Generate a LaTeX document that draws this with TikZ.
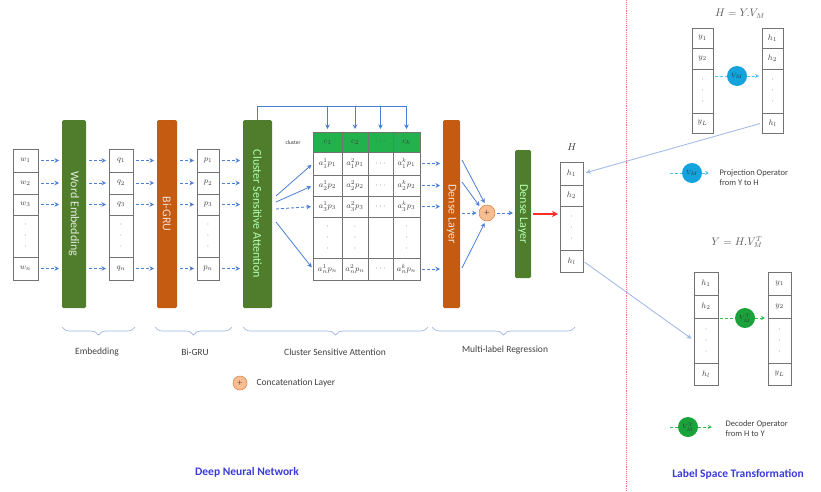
\documentclass[tikz,border=0pt]{standalone}
\usepackage{fontspec}
\setmainfont{Carlito}
\usetikzlibrary{arrows.meta,calc,decorations.pathreplacing}
\definecolor{barG}{HTML}{4F7D2C}
\definecolor{barO}{HTML}{C55A11}
\definecolor{hdrG}{HTML}{22B14C}
\definecolor{arrB}{HTML}{4A7FD6}
\definecolor{lineB}{HTML}{A3BCE8}
\definecolor{brcB}{HTML}{9DB6E2}
\definecolor{catF}{HTML}{F6BE92}
\definecolor{catD}{HTML}{E08A4E}
\definecolor{vmB}{HTML}{14A3DC}
\definecolor{vmG}{HTML}{1BA33B}
\definecolor{cyA}{HTML}{4FC3F0}
\definecolor{grA}{HTML}{2DBE4E}
\definecolor{titleB}{HTML}{3B3BD8}
\definecolor{txtG}{HTML}{404040}
\definecolor{redL}{HTML}{FF7070}
\definecolor{redA}{HTML}{FF2A2A}
\newcommand\mkcell[7][]{\node[cell,#1,minimum width={(#5-#3)*1pt},minimum height={(#6-#4)*1pt}] (#2) at ({(#3+#5)/2},{(#4+#6)/2}) {#7};}
\newcommand\mydots{$\cdot$\\[3pt]$\cdot$\\[3pt]$\cdot$}
\tikzset{
  cell/.style={draw=black!55, line width=0.5pt, inner sep=0pt, outer sep=0pt, align=center, font=\fontsize{8}{8}\selectfont, text=black!75},
  bar/.style={rounded corners=1.5pt, inner sep=0pt, outer sep=0pt, draw=none},
  bartxt/.style={rotate=-90, font=\fontsize{12}{12}\selectfont, inner sep=0pt},
  arr/.style={draw=arrB, line width=0.9pt, densely dashed, -{Stealth[length=4.5pt,width=4.5pt]}, shorten <=3pt, shorten >=3pt},
  arrs/.style={draw=arrB, line width=0.8pt, -{Stealth[length=4.5pt,width=4.5pt]}, shorten >=2pt},
  tline/.style={draw=arrB, line width=0.8pt},
  longarr/.style={draw=lineB, line width=0.9pt, -{Stealth[length=5pt,width=5pt]}, shorten >=3pt, shorten <=2pt},
  opc/.style={circle, minimum size=20pt, inner sep=0pt, font=\fontsize{6}{6}\selectfont, text=black!80},
  carr/.style={draw=cyA, line width=1pt, densely dashed},
  garr/.style={draw=grA, line width=1pt, densely dashed},
  brc/.style={draw=brcB, line width=0.7pt, decorate, decoration={brace, mirror, amplitude=8pt}},
  lbl/.style={font=\fontsize{9.5}{10}\selectfont, text=txtG},
  leg/.style={font=\fontsize{8.5}{10}\selectfont, text=txtG, align=left, anchor=west},
  ttl/.style={font=\fontsize{11.5}{12}\selectfont\bfseries, text=titleB},
}
\begin{document}
\begin{tikzpicture}[x=1pt,y=-1pt]
\useasboundingbox (0,0) rectangle (821,491);

% ---------- input column w ----------
\mkcell{w-1}{13}{149}{38}{172}{$w_1$}
\mkcell{w-2}{13}{172}{38}{194}{$w_2$}
\mkcell{w-3}{13}{194}{38}{215}{$w_3$}
\mkcell{w-d}{13}{215}{38}{257}{\mydots}
\mkcell{w-n}{13}{257}{38}{280}{$w_n$}
% ---------- q column ----------
\mkcell{q-1}{109}{149}{133}{172}{$q_1$}
\mkcell{q-2}{109}{172}{133}{194}{$q_2$}
\mkcell{q-3}{109}{194}{133}{215}{$q_3$}
\mkcell{q-d}{109}{215}{133}{257}{\mydots}
\mkcell{q-n}{109}{257}{133}{280}{$q_n$}
% ---------- p column ----------
\mkcell{p-1}{197}{149}{219}{172}{$p_1$}
\mkcell{p-2}{197}{172}{219}{194}{$p_2$}
\mkcell{p-3}{197}{194}{219}{215}{$p_3$}
\mkcell{p-d}{197}{215}{219}{257}{\mydots}
\mkcell{p-n}{197}{257}{219}{280}{$p_n$}

% ---------- bars ----------
\node[bar, fill=barG, minimum width=24pt, minimum height=188pt] (emb) at (74,214) {};
\node[bartxt, text=white!85!barG] (emb-t) at (emb.center) {Word Embedding};
\node[bar, fill=barO, minimum width=20pt, minimum height=188pt] (gru) at (167,214) {};
\node[bartxt, text=white!80!barO] (gru-t) at (gru.center) {Bi-GRU};
\node[bar, fill=barG, minimum width=29pt, minimum height=188pt] (csa) at (257.5,214) {};
\node[bartxt, text=green!30!white] (csa-t) at (csa.center) {Cluster Sensitive Attention};
\node[bar, fill=barO, minimum width=17pt, minimum height=188pt] (dense) at (451.5,214) {};
\node[bartxt, text=white!80!barO] (dense-t) at (dense.center) {Dense Layer};
\node[bar, fill=barG, minimum width=16pt, minimum height=128pt] (dense2) at (523,214) {};
\node[bartxt, text=green!30!white] (dense2-t) at (dense2.center) {Dense Layer};

% ---------- row arrows ----------
\foreach \r in {1,2,3,n}{
  \draw[arr] (w-\r.east) -- (w-\r.east -| emb.west);
  \draw[arr] (emb.east |- q-\r.west) -- (q-\r.west);
  \draw[arr] (q-\r.east) -- (q-\r.east -| gru.west);
  \draw[arr] (gru.east |- p-\r.west) -- (p-\r.west);
  \draw[arr] (p-\r.east) -- (p-\r.east -| csa.west);
}

% ---------- attention table ----------
\node[font=\fontsize{5.5}{6}\selectfont, text=black!80] (clus) at (293,143) {cluster};
\mkcell[fill=hdrG]{t-0-1}{313}{132}{342}{152}{$c_1$}
\mkcell[fill=hdrG]{t-0-2}{342}{132}{368}{152}{$c_2$}
\mkcell[fill=hdrG]{t-0-3}{368}{132}{393}{152}{$\cdots$}
\mkcell[fill=hdrG]{t-0-4}{393}{132}{420}{152}{$c_k$}
\mkcell{t-1-1}{313}{152}{342}{175}{$a_1^1p_1$}
\mkcell{t-1-2}{342}{152}{368}{175}{$a_1^2p_1$}
\mkcell{t-1-3}{368}{152}{393}{175}{$\cdots$}
\mkcell{t-1-4}{393}{152}{420}{175}{$a_1^kp_1$}
\mkcell{t-2-1}{313}{175}{342}{196}{$a_2^1p_2$}
\mkcell{t-2-2}{342}{175}{368}{196}{$a_2^2p_2$}
\mkcell{t-2-3}{368}{175}{393}{196}{$\cdots$}
\mkcell{t-2-4}{393}{175}{420}{196}{$a_2^kp_2$}
\mkcell{t-3-1}{313}{196}{342}{217}{$a_3^1p_3$}
\mkcell{t-3-2}{342}{196}{368}{217}{$a_3^2p_3$}
\mkcell{t-3-3}{368}{196}{393}{217}{$\cdots$}
\mkcell{t-3-4}{393}{196}{420}{217}{$a_3^kp_3$}
\mkcell{t-d-1}{313}{217}{342}{258}{\mydots}
\mkcell{t-d-2}{342}{217}{368}{258}{\mydots}
\mkcell{t-d-3}{368}{217}{393}{258}{}
\mkcell{t-d-4}{393}{217}{420}{258}{\mydots}
\mkcell{t-n-1}{313}{258}{342}{280}{$a_n^1p_n$}
\mkcell{t-n-2}{342}{258}{368}{280}{$a_n^2p_n$}
\mkcell{t-n-3}{368}{258}{393}{280}{$\cdots$}
\mkcell{t-n-4}{393}{258}{420}{280}{$a_n^kp_n$}

% top feed line
\draw[tline] (csa.north) -- (csa.north |- 0,106) -- (t-0-4.north |- 0,106);
\foreach \c in {1,2,3,4}{
  \draw[arrs, shorten >=3pt] (t-0-\c.north |- 0,106) -- (t-0-\c.north);
}
% fan from attention bar
\draw[arrs] ($(csa.east)+(4,-18)$) -- (t-1-1.west);
\draw[arrs] ($(csa.east)+(4,-12)$) -- (t-2-1.west);
\draw[arr, shorten <=0pt, shorten >=2pt] ($(csa.east)+(4,-5)$) -- (t-3-1.west);
\draw[arrs] ($(csa.east)+(4,8)$) -- (t-n-1.west);
% table rows to dense layer
\foreach \r in {1,2,3,n}{
  \draw[arr, shorten <=2pt] (t-\r-4.east) -- (t-\r-4.east -| dense.west);
}

% ---------- concatenation ----------
\node[circle, draw=catD, fill=catF, line width=0.6pt, minimum size=16pt, inner sep=0pt, font=\fontsize{7}{7}\selectfont] (cat) at (487,213) {$+$};
\draw[arrs] ($(dense.east)+(2,-54)$) -- (cat.100);
\draw[arrs] ($(dense.east)+(2,-32)$) -- (cat.140);
\draw[arr, shorten <=2pt, shorten >=2pt] ($(dense.east)+(0,-1)$) -- (cat.west);
\draw[arrs] ($(dense.east)+(2,54)$) -- (cat.-100);
\draw[arr, shorten <=2pt, shorten >=2pt] (cat.east) -- (cat.east -| dense2.west);

% ---------- H column ----------
\node[font=\fontsize{10}{10}\selectfont, text=black!80] (Hlab) at (572,147) {$H$};
\mkcell{H-1}{560}{162}{583}{185}{$h_1$}
\mkcell{H-2}{560}{185}{583}{206}{$h_2$}
\mkcell{H-d}{560}{206}{583}{250}{\mydots}
\mkcell{H-n}{560}{250}{583}{272}{$h_l$}
\draw[draw=redA, line width=1.6pt, -{Stealth[length=6pt,width=6pt]}, shorten <=2pt, shorten >=2pt] (dense2.east) -- (dense2.east -| H-d.west);

% ---------- separator ----------
\draw[redL, densely dotted, line width=0.9pt] (626,0) -- (626,491);

% ---------- projection (top right) ----------
\node[font=\fontsize{10.5}{11}\selectfont, text=black!65] (f1) at (740,14) {$H = Y.V_M$};
\mkcell{ty-1}{692}{28}{713}{48}{$y_1$}
\mkcell{ty-2}{692}{48}{713}{69}{$y_2$}
\mkcell{ty-d}{692}{69}{713}{113}{\mydots}
\mkcell{ty-n}{692}{113}{713}{133}{$y_L$}
\mkcell{th-1}{762}{28}{783}{48}{$h_1$}
\mkcell{th-2}{762}{48}{783}{69}{$h_2$}
\mkcell{th-d}{762}{69}{783}{113}{\mydots}
\mkcell{th-n}{762}{113}{783}{133}{$h_l$}
\node[opc, fill=vmB] (vm) at (737,76) {$V_M$};
\draw[carr, shorten <=2pt] (ty-d.east |- vm) -- (vm.west);
\draw[carr, -{Stealth[length=4pt,width=4pt]}, shorten >=3pt] (vm.east) -- (th-d.west |- vm);

% legend projection
\node[opc, fill=vmB] (vml) at (692,173) {$V_M$};
\coordinate (vml-a) at (670,173);
\coordinate (vml-b) at (709,173);
\draw[carr] (vml-a) -- (vml.west);
\draw[carr, -{Stealth[length=4pt,width=4pt]}] (vml.east) -- (vml-b);
\node[leg] (vml-t) at (716,178) {Projection Operator\\from Y to H};

% ---------- decoder (bottom right) ----------
\node[font=\fontsize{10.5}{11}\selectfont, text=black!65] (f2) at (737,242) {$Y = H.V_M^T$};
\mkcell{bh-1}{694}{272}{718}{295}{$h_1$}
\mkcell{bh-2}{694}{295}{718}{318}{$h_2$}
\mkcell{bh-d}{694}{318}{718}{363}{\mydots}
\mkcell{bh-n}{694}{363}{718}{385}{$h_l$}
\mkcell{by-1}{768}{272}{791}{295}{$y_1$}
\mkcell{by-2}{768}{295}{791}{318}{$y_2$}
\mkcell{by-d}{768}{318}{791}{363}{\mydots}
\mkcell{by-n}{768}{363}{791}{385}{$y_L$}
\node[opc, fill=vmG] (vmt) at (745,318) {$V_M^T$};
\draw[garr, shorten <=2pt] (vmt -| bh-d.east) -- (vmt.west);
\draw[garr, -{Stealth[length=4pt,width=4pt]}, shorten >=3pt] (vmt.east) -- (vmt -| by-d.west);

% legend decoder
\node[opc, fill=vmG] (vmtl) at (688,427) {$V_M^T$};
\coordinate (vmtl-a) at (670,427);
\coordinate (vmtl-b) at (712,427);
\draw[garr] (vmtl-a) -- (vmtl.west);
\draw[garr, -{Stealth[length=4pt,width=4pt]}] (vmtl.east) -- (vmtl-b);
\node[leg] (vmtl-t) at (722,429) {Decoder Operator\\from H to Y};

% ---------- long links ----------
\draw[longarr] (th-n.west) -- (H-1.east);
\draw[longarr] (H-n.east) -- (bh-d.west);

% ---------- braces and labels ----------
\draw[brc] (62,327) -- (135,327);
\draw[brc] (155,327) -- (232,327);
\draw[brc] (243,327) -- (428,327);
\draw[brc] (432,327) -- (575,327);
\node[lbl] (lb1) at (97,352) {Embedding};
\node[lbl] (lb2) at (195,352) {Bi-GRU};
\node[lbl] (lb3) at (335,352) {Cluster Sensitive Attention};
\node[lbl] (lb4) at (505,350) {Multi-label Regression};

% concatenation legend
\node[circle, draw=catD, fill=catF, line width=0.6pt, minimum size=14pt, inner sep=0pt, font=\fontsize{6}{6}\selectfont] (catl) at (240,383) {$+$};
\node[lbl, anchor=west] (catl-t) at (253,383) {Concatenation Layer};

% ---------- titles ----------
\node[ttl] (t1) at (247,472) {Deep Neural Network};
\node[ttl] (t2) at (738,474) {Label Space Transformation};
\end{tikzpicture}
\end{document}
